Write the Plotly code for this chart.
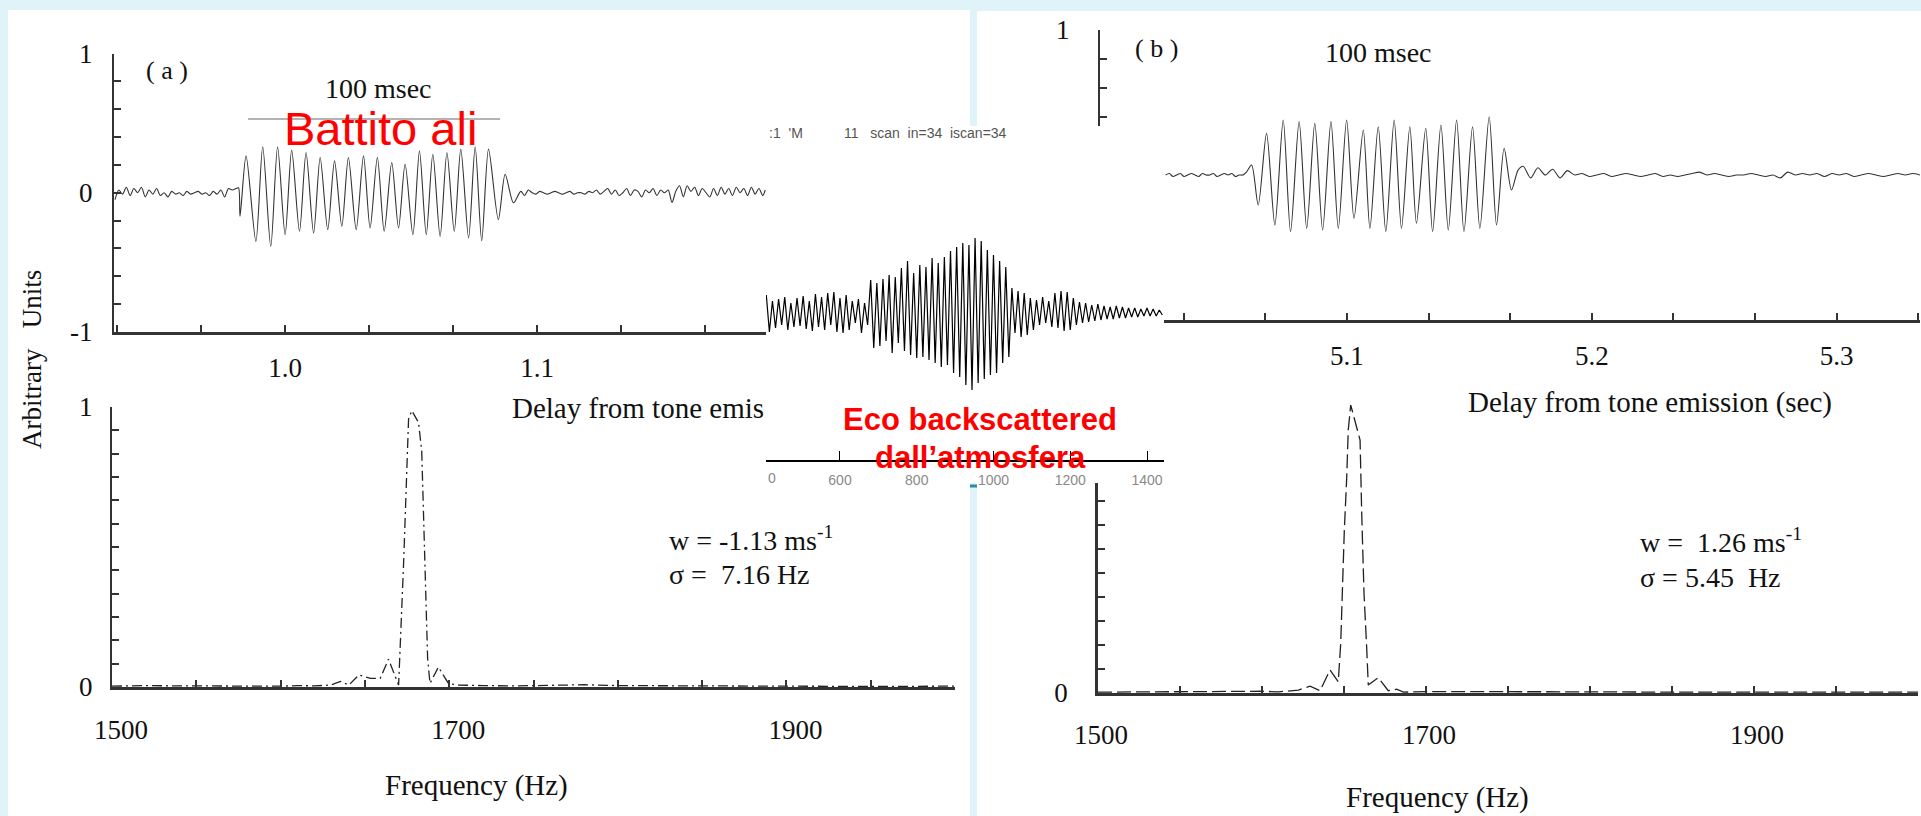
import plotly.graph_objects as go

W, H = 1921, 816


def fx(px):
    return px / W


def fy(py):
    return 1 - py / H


SERIF = "Liberation Serif, Times New Roman, serif"
SANS = "Liberation Sans, Arial, sans-serif"

# ---------------- data : panel (a) time series ----------------
a_pre_t = [0.9325, 0.9340, 0.9355, 0.9370, 0.9385, 0.9400, 0.9415, 0.9430, 0.9445, 0.9460,
           0.9475, 0.9490, 0.9505, 0.9520, 0.9535, 0.9550, 0.9565, 0.9580, 0.9595, 0.9610,
           0.9625, 0.9640, 0.9655, 0.9670, 0.9685, 0.9700, 0.9715, 0.9730, 0.9745, 0.9760,
           0.9775, 0.9790, 0.9805]
a_pre_v = [-0.05, 0.02, -0.01, 0.04, -0.02, 0.03, 0.00, 0.04, -0.03, 0.02,
           -0.01, 0.03, -0.02, 0.00, -0.03, 0.01, -0.01, 0.00, -0.02, 0.01,
           -0.01, 0.00, 0.01, -0.01, 0.00, -0.02, 0.01, -0.01, 0.02, -0.03,
           0.03, 0.02, 0.03]
a_burst_t = [0.9815, 0.9821, 0.9845, 0.9884, 0.9911, 0.9943, 0.9970, 1.0000, 1.0026, 1.0057,
             1.0083, 1.0113, 1.0139, 1.0169, 1.0196, 1.0225, 1.0251, 1.0282, 1.0311, 1.0337,
             1.0366, 1.0393, 1.0423, 1.0450, 1.0476, 1.0507, 1.0533, 1.0560, 1.0586, 1.0615,
             1.0642, 1.0671, 1.0697, 1.0728, 1.0754, 1.0780, 1.0807, 1.0846, 1.0873, 1.0906]
a_burst_v = [0.036, -0.169, 0.265, -0.349, 0.330, -0.386, 0.330, -0.301, 0.306, -0.277,
             0.289, -0.289, 0.253, -0.265, 0.229, -0.241, 0.253, -0.265, 0.265, -0.253,
             0.253, -0.277, 0.217, -0.253, 0.205, -0.301, 0.301, -0.301, 0.277, -0.313,
             0.289, -0.277, 0.313, -0.325, 0.330, -0.345, 0.313, -0.193, 0.133, -0.072]
a_post_t = [1.0935, 1.0950, 1.0965, 1.0980, 1.0995, 1.1010, 1.1025, 1.1040, 1.1055, 1.1070, 1.1085,
            1.1100, 1.1115, 1.1130, 1.1145, 1.1160, 1.1175, 1.1190, 1.1205, 1.1220, 1.1235, 1.1250,
            1.1265, 1.1280, 1.1295, 1.1310, 1.1325, 1.1340, 1.1355, 1.1370, 1.1385, 1.1400, 1.1415,
            1.1430, 1.1445, 1.1460, 1.1475, 1.1490, 1.1505, 1.1520, 1.1535, 1.1550, 1.1565, 1.1580,
            1.1595, 1.1610, 1.1625, 1.1640, 1.1655, 1.1670, 1.1685, 1.1700, 1.1715, 1.1730, 1.1745,
            1.1760, 1.1775, 1.1790, 1.1805, 1.1820, 1.1835, 1.1850, 1.1865, 1.1880, 1.1895, 1.1905]
a_post_v = [0.01, -0.02, 0.02, 0.00, -0.01, 0.01, 0.00, -0.01, 0.00, 0.01, 0.00,
            -0.01, 0.00, 0.01, -0.01, 0.00, 0.00, -0.01, 0.01, 0.00, 0.02, -0.01,
            0.01, 0.03, -0.01, 0.02, -0.02, 0.00, 0.03, -0.02, 0.02, 0.01, -0.03,
            0.02, 0.00, 0.03, -0.02, 0.02, 0.00, 0.02, -0.07, 0.01, 0.05, -0.03,
            0.05, 0.01, 0.04, -0.02, 0.03, 0.00, -0.03, 0.03, -0.02, 0.04, -0.01,
            0.03, -0.02, 0.04, 0.00, 0.03, -0.02, 0.04, -0.01, 0.03, -0.02, 0.02]
scale_bar_t = [0.9853, 1.0853]   # 100 msec
scale_bar_v = [0.53, 0.53]

# ---------------- data : panel (b) time series ----------------
b_pre_t = [5.0260, 5.0275, 5.0290, 5.0305, 5.0320, 5.0335, 5.0350, 5.0365, 5.0380, 5.0395,
           5.0410, 5.0425, 5.0440, 5.0455, 5.0470, 5.0485, 5.0500, 5.0515, 5.0530, 5.0545,
           5.0560, 5.0575, 5.0590]
b_pre_v = [0.00, 0.01, -0.01, 0.00, 0.01, -0.01, 0.00, 0.01, 0.00, -0.01,
           0.01, 0.00, 0.00, 0.01, -0.01, 0.00, 0.01, 0.00, 0.01, -0.01,
           0.00, 0.00, 0.02]
b_burst_t = [5.0611, 5.0638, 5.0672, 5.0706, 5.0740, 5.0770, 5.0805, 5.0836, 5.0869, 5.0901,
             5.0935, 5.0965, 5.0999, 5.1029, 5.1067, 5.1094, 5.1128, 5.1159, 5.1193, 5.1223,
             5.1257, 5.1284, 5.1322, 5.1350, 5.1384, 5.1414, 5.1448, 5.1478, 5.1513, 5.1543,
             5.1581, 5.1611, 5.1642, 5.1672, 5.1699]
b_burst_v = [0.069, -0.207, 0.287, -0.345, 0.379, -0.391, 0.368, -0.368, 0.356, -0.379,
             0.368, -0.368, 0.379, -0.299, 0.310, -0.368, 0.333, -0.391, 0.379, -0.368,
             0.333, -0.333, 0.322, -0.391, 0.345, -0.379, 0.379, -0.391, 0.333, -0.368,
             0.402, -0.345, 0.184, -0.103, 0.034]
b_post_t = [5.172, 5.175, 5.178, 5.181, 5.184, 5.187, 5.190, 5.193, 5.196, 5.199,
            5.202, 5.205, 5.208, 5.211, 5.214, 5.217, 5.220, 5.223, 5.226, 5.229,
            5.232, 5.235, 5.238, 5.241, 5.244, 5.247, 5.250, 5.253, 5.256, 5.259,
            5.262, 5.265, 5.268, 5.271, 5.274, 5.277, 5.280, 5.283, 5.286, 5.289,
            5.292, 5.295, 5.298, 5.301, 5.304, 5.307, 5.310, 5.313, 5.316, 5.319,
            5.322, 5.325, 5.328, 5.331, 5.334]
b_post_v = [0.06, -0.02, 0.05, 0.00, 0.04, -0.02, 0.03, 0.00, 0.01, -0.01,
            0.00, 0.01, -0.01, 0.00, 0.01, 0.00, -0.01, 0.00, 0.01, -0.01,
            0.00, -0.01, 0.00, 0.01, 0.02, 0.00, 0.01, 0.00, -0.01, 0.00,
            0.00, 0.01, 0.00, -0.01, 0.00, -0.02, 0.02, 0.00, 0.01, 0.00,
            0.01, -0.01, 0.01, 0.00, 0.01, -0.01, 0.00, 0.01, 0.00, -0.01,
            0.00, 0.01, 0.00, 0.01, 0.00]

# ---------------- data : spectra ----------------
spec_a_f = [1500, 1520, 1540, 1560, 1580, 1600, 1610, 1620, 1629.7, 1635.5, 1640.5, 1646.4,
            1653.3, 1659.1, 1664.0, 1670.0, 1673.0, 1675.9, 1677.8, 1681.8, 1683.7, 1685.7,
            1687.2, 1688.6, 1693.6, 1699.5, 1705.0, 1720, 1740, 1760, 1780, 1800, 1830, 1860,
            1900, 1950, 2000]
spec_a_v = [0.003, 0.005, 0.004, 0.003, 0.004, 0.003, 0.005, 0.004, 0.007, 0.020, 0.007, 0.043,
            0.031, 0.031, 0.099, 0.007, 0.449, 0.957, 0.987, 0.945, 0.843, 0.430,
            0.102, 0.013, 0.071, 0.013, 0.007, 0.005, 0.004, 0.006, 0.008, 0.005, 0.004, 0.003,
            0.003, 0.002, 0.003]
spec_b_f = [1500, 1530, 1560, 1590, 1600, 1610, 1622.2, 1629.3, 1635.4, 1641.5, 1646.5, 1648.0,
            1649.2, 1650.2, 1651.6, 1652.6, 1654.1, 1657.3, 1659.8, 1660.8, 1662.2, 1663.8,
            1664.8, 1670.9, 1677.0, 1682.1, 1686.2, 1700, 1730, 1760, 1800, 1850, 1900, 1950, 2000]
spec_b_v = [0.003, 0.004, 0.003, 0.005, 0.006, 0.004, 0.010, 0.024, 0.008, 0.080, 0.039, 0.172,
            0.392, 0.566, 0.740, 0.913, 1.000, 0.936, 0.878, 0.624, 0.346, 0.161,
            0.028, 0.053, 0.008, 0.013, 0.003, 0.005, 0.004, 0.003, 0.004, 0.003, 0.002, 0.003, 0.003]

# ---------------- data : inset echo (sample number vs amplitude) ----------------
echo_x = list(range(408, 1441, 8))
echo_v = [0.18, -0.19, 0.12, -0.15, 0.14, -0.12, 0.16, -0.17, 0.10, -0.14,
          0.15, -0.13, 0.17, -0.16, 0.12, -0.18, 0.19, -0.14, 0.16, -0.17,
          0.20, -0.12, 0.21, -0.19, 0.15, -0.20, 0.18, -0.17, 0.12, -0.10,
          0.14, -0.20, 0.10, -0.12, 0.33, -0.35, 0.30, -0.33, 0.34, -0.28,
          0.38, -0.40, 0.36, -0.30, 0.45, -0.38, 0.52, -0.42, 0.40, -0.45,
          0.48, -0.44, 0.46, -0.47, 0.55, -0.50, 0.50, -0.54, 0.56, -0.52,
          0.62, -0.60, 0.66, -0.64, 0.70, -0.72, 0.68, -0.77, 0.75, -0.70,
          0.72, -0.66, 0.63, -0.62, 0.58, -0.60, 0.52, -0.50, 0.46, -0.44,
          0.25, -0.20, 0.22, -0.24, 0.20, -0.22, 0.15, -0.17, 0.13, -0.12,
          0.16, -0.10, 0.12, -0.14, 0.20, -0.15, 0.22, -0.18, 0.21, -0.17,
          0.15, -0.12, 0.11, -0.10, 0.10, -0.09, 0.08, -0.08, 0.09, -0.07,
          0.07, -0.06, 0.06, -0.06, 0.07, -0.05, 0.06, -0.05, 0.05, -0.04,
          0.05, -0.04, 0.04, -0.03, 0.05, -0.03, 0.04, -0.03, 0.03, -0.02]

a_time = a_pre_t + a_burst_t + a_post_t
a_amp = a_pre_v + a_burst_v + a_post_v
b_time = b_pre_t + b_burst_t + b_post_t
b_amp = b_pre_v + b_burst_v + b_post_v

fig = go.Figure()
WAVE = dict(color="#333333", width=1.1, shape="spline", smoothing=0.8)
fig.add_trace(go.Scatter(x=a_time, y=a_amp, mode="lines", line=WAVE, xaxis="x", yaxis="y"))
fig.add_trace(go.Scatter(x=scale_bar_t, y=scale_bar_v, mode="lines",
                         line=dict(color="#9a9a9a", width=1.6), xaxis="x", yaxis="y"))
fig.add_trace(go.Scatter(x=b_time, y=b_amp, mode="lines", line=WAVE, xaxis="x2", yaxis="y2"))
fig.add_trace(go.Scatter(x=spec_a_f, y=spec_a_v, mode="lines",
                         line=dict(color="#222222", width=1.3, dash="10px,4px,2px,4px"),
                         xaxis="x3", yaxis="y3"))
fig.add_trace(go.Scatter(x=spec_b_f, y=spec_b_v, mode="lines",
                         line=dict(color="#222222", width=1.3, dash="14px,5px"),
                         xaxis="x4", yaxis="y4"))
fig.add_trace(go.Scatter(x=echo_x, y=echo_v, mode="lines",
                         line=dict(color="#000000", width=1.2), xaxis="x5", yaxis="y5"))

TICKFONT = dict(family=SERIF, size=27, color="#111111")
AX = dict(showline=True, linecolor="#333333", showgrid=False, zeroline=False,
          ticks="inside", tickcolor="#333333", tickwidth=1.5, ticklen=7,
          tickfont=TICKFONT, automargin=False)


def minor(dt, t0):
    return dict(ticks="inside", ticklen=7, tickwidth=1.5, tickcolor="#333333",
                dtick=dt, tick0=t0, showgrid=False)


fig.update_layout(
    template="none",
    width=W, height=H, margin=dict(l=0, r=0, t=0, b=0, pad=0, autoexpand=False),
    paper_bgcolor="#dff3f8", plot_bgcolor="white", showlegend=False,
    xaxis=dict(AX, domain=[fx(114), fx(766)], range=[0.9321, 1.1908], anchor="y",
               linewidth=3, tickvals=[1.0, 1.1], ticktext=["1.0", "1.1"],
               ticklabelstandoff=10, minor=minor(1 / 30, 1.0)),
    yaxis=dict(AX, domain=[fy(332), fy(53.5)], range=[-1, 1], anchor="x",
               linewidth=2, tickvals=[-1, 0, 1], ticktext=["-1", "0", "1"],
               ticklabelstandoff=14, minor=minor(0.2, -1)),
    xaxis2=dict(AX, domain=[fx(1100), fx(1920)], range=[4.9992, 5.334], anchor="y2",
                linewidth=2.5, tickvals=[5.1, 5.2, 5.3], ticktext=["5.1", "5.2", "5.3"],
                ticklabelstandoff=10, minor=minor(1 / 30, 5.0)),
    yaxis2=dict(AX, domain=[fy(320), fy(30)], range=[-1, 1], anchor="x2",
                linewidth=2, tickvals=[1], ticktext=["1"],
                ticklabelstandoff=23, minor=minor(0.2, -1)),
    xaxis3=dict(AX, domain=[fx(112), fx(955)], range=[1500, 2000], anchor="y3",
                linewidth=3, tickvals=[1500, 1700, 1900], ticktext=["1500", "1700", "1900"],
                ticklabelstandoff=17, ticklabelshift=9, minor=minor(50, 1500)),
    yaxis3=dict(AX, domain=[fy(687), fy(407)], range=[0, 1], anchor="x3",
                linewidth=2, tickvals=[0, 1], ticktext=["0", "1"],
                ticklabelstandoff=12, minor=minor(1 / 12, 0)),
    xaxis4=dict(AX, domain=[fx(1098), fx(1918)], range=[1500, 2000], anchor="y4",
                linewidth=3, tickvals=[1500, 1700, 1900], ticktext=["1500", "1700", "1900"],
                ticklabelstandoff=16, ticklabelshift=3, minor=minor(50, 1500)),
    yaxis4=dict(AX, domain=[fy(693), fy(405)], range=[0, 1], anchor="x4",
                linewidth=2.5, tickvals=[0], ticktext=["0"],
                ticklabelstandoff=22, minor=minor(1 / 12, 0)),
    xaxis5=dict(domain=[fx(766), fx(1164)], range=[407.2, 1444.3], anchor="free",
                position=fy(461), showline=True, linecolor="#000000", linewidth=1.5,
                showgrid=False, zeroline=False, ticks="inside", ticklen=9,
                tickcolor="#000000", tickwidth=1.2, automargin=False,
                tickvals=[600, 800, 1000, 1200, 1400],
                ticktext=["600", "800", "1000", "1200", "1400"],
                tickfont=dict(family=SANS, size=14, color="#8a8a8a"),
                ticklabelstandoff=6),
    yaxis5=dict(domain=[fy(483), fy(126)], range=[-1.70, 1.87], anchor="x5",
                visible=False, showgrid=False, zeroline=False, automargin=False),
)

# panels (white cards on the light-blue page)
fig.add_shape(type="rect", xref="paper", yref="paper", x0=fx(8), x1=fx(970), y0=0, y1=fy(10),
              fillcolor="white", line_width=0, layer="below")
fig.add_shape(type="rect", xref="paper", yref="paper", x0=fx(977), x1=1, y0=0, y1=fy(11),
              fillcolor="white", line_width=0, layer="below")
fig.add_shape(type="line", xref="paper", yref="paper", x0=fx(970), x1=fx(977),
              y0=fy(486), y1=fy(486), line=dict(color="#2b8ca3", width=3))


def ann(text, x, y, size=27, family=SERIF, color="#111111", xanchor="center",
        yanchor="middle", angle=0, **kw):
    fig.add_annotation(text=text, x=fx(x), y=fy(y), xref="paper", yref="paper",
                       showarrow=False, xanchor=xanchor, yanchor=yanchor, textangle=angle,
                       font=dict(family=family, size=size, color=color), **kw)


ann("( a )", 167, 70, size=26)
ann("100 msec", 378, 88, size=28)
ann("Battito ali", 380, 128, size=47, family=SANS, color="#ff0000")
ann("Delay from tone emis", 510, 408, size=29, xanchor="left")
ann("Arbitrary\u00a0\u00a0\u00a0Units", 32, 360, size=27, angle=-90)
ann("Frequency (Hz)", 476, 785, size=29)
ann("w = -1.13 ms<sup>-1</sup>", 667, 538, size=28, xanchor="left")
ann("σ =  7.16 Hz", 667, 574, size=28, xanchor="left")

ann("( b )", 1156, 48, size=26)
ann("100 msec", 1378, 52, size=28)
ann("Delay from tone emission (sec)", 1650, 402, size=29)
ann("Frequency (Hz)", 1437, 797, size=29)
ann("w =  1.26 ms<sup>-1</sup>", 1638, 540, size=28, xanchor="left")
ann("σ = 5.45  Hz", 1638, 577, size=28, xanchor="left")

# inset header & fragments
ann(":1  'M", 767, 133, size=14, family=SANS, color="#555555", xanchor="left")
ann("11   scan  in=34  iscan=34", 842, 133, size=14, family=SANS, color="#555555",
    xanchor="left")
ann("0", 772, 478, size=14, family=SANS, color="#8a8a8a")
ann("<b>Eco backscattered</b>", 980, 420, size=31, family=SANS, color="#ff0000")
ann("<b>dall\u2019atmosfera</b>", 981, 457, size=31, family=SANS, color="#ff0000")

fig.write_html("out.html", config={"displayModeBar": False},
               post_script="document.body.style.margin='0';document.body.style.overflow='hidden';")
